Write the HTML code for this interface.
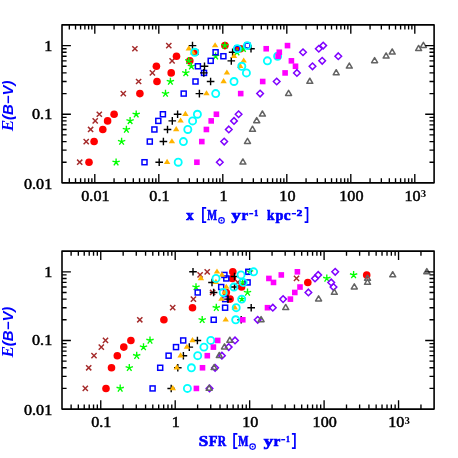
<!DOCTYPE html>
<html><head><meta charset="utf-8"><title>plot</title>
<style>
html,body{margin:0;padding:0;background:#fff;}
svg{display:block;will-change:transform;filter:opacity(1)}
.t{font-family:"Liberation Serif",serif;font-weight:normal;font-size:14.4px;fill:#000;stroke:#000;stroke-width:0.48px}
.yt{font-family:"Liberation Sans",sans-serif;font-weight:bold;font-style:italic;font-size:14px;fill:#0000ff}
.ys{font-family:"Liberation Serif",serif;font-size:16px}
.xl{font-family:"Liberation Serif",serif;font-weight:bold;font-size:13.9px;fill:#0000ff;stroke:#0000ff;stroke-width:0.65px}
.xs{font-family:"Liberation Mono",monospace;font-weight:bold;font-size:8.5px;fill:#0000ff}
</style></head><body>
<svg width="458" height="458" viewBox="0 0 458 458">
<rect width="458" height="458" fill="#fff"/>
<path d="M77.1 159.63L82.3 164.83M77.1 164.83L82.3 159.63" stroke="#a52a2a" stroke-width="1.45" fill="none"/>
<path d="M83.6 138.97L88.8 144.17M83.6 144.17L88.8 138.97" stroke="#a52a2a" stroke-width="1.45" fill="none"/>
<path d="M88 126.88L93.2 132.08M88 132.08L93.2 126.88" stroke="#a52a2a" stroke-width="1.45" fill="none"/>
<path d="M92.6 118.3L97.8 123.5M92.6 123.5L97.8 118.3" stroke="#a52a2a" stroke-width="1.45" fill="none"/>
<path d="M96.7 111.65L101.9 116.85M96.7 116.85L101.9 111.65" stroke="#a52a2a" stroke-width="1.45" fill="none"/>
<path d="M120.7 90.98L125.9 96.18M120.7 96.18L125.9 90.98" stroke="#a52a2a" stroke-width="1.45" fill="none"/>
<path d="M136 78.9L141.2 84.1M136 84.1L141.2 78.9" stroke="#a52a2a" stroke-width="1.45" fill="none"/>
<path d="M149.8 70.32L155 75.52M149.8 75.52L155 70.32" stroke="#a52a2a" stroke-width="1.45" fill="none"/>
<path d="M169.5 58.23L174.7 63.43M169.5 63.43L174.7 58.23" stroke="#a52a2a" stroke-width="1.45" fill="none"/>
<path d="M193.4 49.65L198.6 54.85M193.4 54.85L198.6 49.65" stroke="#a52a2a" stroke-width="1.45" fill="none"/>
<path d="M132.3 46.14L137.5 51.34M132.3 51.34L137.5 46.14" stroke="#a52a2a" stroke-width="1.45" fill="none"/>
<path d="M166.2 43L171.4 48.2M166.2 48.2L171.4 43" stroke="#a52a2a" stroke-width="1.45" fill="none"/>
<circle cx="89" cy="162.23" r="3.8" fill="#ff0000"/>
<circle cx="94.1" cy="141.57" r="3.8" fill="#ff0000"/>
<circle cx="102.8" cy="129.48" r="3.8" fill="#ff0000"/>
<circle cx="107.6" cy="120.9" r="3.8" fill="#ff0000"/>
<circle cx="114.1" cy="114.25" r="3.8" fill="#ff0000"/>
<circle cx="139.9" cy="93.58" r="3.8" fill="#ff0000"/>
<circle cx="157" cy="81.5" r="3.8" fill="#ff0000"/>
<circle cx="171.2" cy="72.92" r="3.8" fill="#ff0000"/>
<circle cx="156.4" cy="66.27" r="3.8" fill="#ff0000"/>
<circle cx="189.8" cy="60.83" r="3.8" fill="#ff0000"/>
<circle cx="176.5" cy="56.23" r="3.8" fill="#ff0000"/>
<circle cx="195.2" cy="52.25" r="3.8" fill="#ff0000"/>
<circle cx="237.6" cy="48.74" r="3.8" fill="#ff0000"/>
<circle cx="224.9" cy="45.6" r="3.8" fill="#ff0000"/>
<circle cx="240.4" cy="48.74" r="3.8" fill="#ff0000"/>
<path d="M116.1 162.23L116.1 158.38M116.1 162.23L112.44 161.04M116.1 162.23L113.84 165.35M116.1 162.23L118.36 165.35M116.1 162.23L119.76 161.04" stroke="#00ff00" stroke-width="1.35" fill="none"/>
<path d="M121.6 141.57L121.6 137.72M121.6 141.57L117.94 140.38M121.6 141.57L119.34 144.68M121.6 141.57L123.86 144.68M121.6 141.57L125.26 140.38" stroke="#00ff00" stroke-width="1.35" fill="none"/>
<path d="M126.4 129.48L126.4 125.63M126.4 129.48L122.74 128.29M126.4 129.48L124.14 132.59M126.4 129.48L128.66 132.59M126.4 129.48L130.06 128.29" stroke="#00ff00" stroke-width="1.35" fill="none"/>
<path d="M130.1 120.9L130.1 117.05M130.1 120.9L126.44 119.71M130.1 120.9L127.84 124.02M130.1 120.9L132.36 124.02M130.1 120.9L133.76 119.71" stroke="#00ff00" stroke-width="1.35" fill="none"/>
<path d="M136.2 114.25L136.2 110.4M136.2 114.25L132.54 113.06M136.2 114.25L133.94 117.36M136.2 114.25L138.46 117.36M136.2 114.25L139.86 113.06" stroke="#00ff00" stroke-width="1.35" fill="none"/>
<path d="M165.5 93.58L165.5 89.73M165.5 93.58L161.84 92.39M165.5 93.58L163.24 96.7M165.5 93.58L167.76 96.7M165.5 93.58L169.16 92.39" stroke="#00ff00" stroke-width="1.35" fill="none"/>
<path d="M170.4 81.5L170.4 77.65M170.4 81.5L166.74 80.31M170.4 81.5L168.14 84.61M170.4 81.5L172.66 84.61M170.4 81.5L174.06 80.31" stroke="#00ff00" stroke-width="1.35" fill="none"/>
<path d="M185.8 72.92L185.8 69.07M185.8 72.92L182.14 71.73M185.8 72.92L183.54 76.03M185.8 72.92L188.06 76.03M185.8 72.92L189.46 71.73" stroke="#00ff00" stroke-width="1.35" fill="none"/>
<path d="M191.4 66.27L191.4 62.42M191.4 66.27L187.74 65.08M191.4 66.27L189.14 69.38M191.4 66.27L193.66 69.38M191.4 66.27L195.06 65.08" stroke="#00ff00" stroke-width="1.35" fill="none"/>
<path d="M188.7 60.83L188.7 56.98M188.7 60.83L185.04 59.64M188.7 60.83L186.44 63.94M188.7 60.83L190.96 63.94M188.7 60.83L192.36 59.64" stroke="#00ff00" stroke-width="1.35" fill="none"/>
<path d="M215.6 56.23L215.6 52.38M215.6 56.23L211.94 55.04M215.6 56.23L213.34 59.35M215.6 56.23L217.86 59.35M215.6 56.23L219.26 55.04" stroke="#00ff00" stroke-width="1.35" fill="none"/>
<path d="M237 52.25L237 48.4M237 52.25L233.34 51.06M237 52.25L234.74 55.37M237 52.25L239.26 55.37M237 52.25L240.66 51.06" stroke="#00ff00" stroke-width="1.35" fill="none"/>
<path d="M243.4 48.74L243.4 44.89M243.4 48.74L239.74 47.55M243.4 48.74L241.14 51.86M243.4 48.74L245.66 51.86M243.4 48.74L247.06 47.55" stroke="#00ff00" stroke-width="1.35" fill="none"/>
<path d="M224.9 45.6L224.9 41.75M224.9 45.6L221.24 44.41M224.9 45.6L222.64 48.71M224.9 45.6L227.16 48.71M224.9 45.6L228.56 44.41" stroke="#00ff00" stroke-width="1.35" fill="none"/>
<rect x="142" y="159.73" width="5" height="5" stroke="#0000ff" stroke-width="1.5" fill="none"/>
<rect x="147.3" y="139.07" width="5" height="5" stroke="#0000ff" stroke-width="1.5" fill="none"/>
<rect x="151.9" y="126.98" width="5" height="5" stroke="#0000ff" stroke-width="1.5" fill="none"/>
<rect x="155.8" y="118.4" width="5" height="5" stroke="#0000ff" stroke-width="1.5" fill="none"/>
<rect x="160.4" y="111.75" width="5" height="5" stroke="#0000ff" stroke-width="1.5" fill="none"/>
<rect x="181.2" y="91.08" width="5" height="5" stroke="#0000ff" stroke-width="1.5" fill="none"/>
<rect x="193" y="79" width="5" height="5" stroke="#0000ff" stroke-width="1.5" fill="none"/>
<rect x="201.5" y="70.42" width="5" height="5" stroke="#0000ff" stroke-width="1.5" fill="none"/>
<rect x="195.4" y="63.77" width="5" height="5" stroke="#0000ff" stroke-width="1.5" fill="none"/>
<rect x="208.2" y="58.33" width="5" height="5" stroke="#0000ff" stroke-width="1.5" fill="none"/>
<rect x="220.9" y="53.73" width="5" height="5" stroke="#0000ff" stroke-width="1.5" fill="none"/>
<rect x="213.1" y="49.75" width="5" height="5" stroke="#0000ff" stroke-width="1.5" fill="none"/>
<rect x="234.8" y="46.24" width="5" height="5" stroke="#0000ff" stroke-width="1.5" fill="none"/>
<rect x="244.9" y="43.1" width="5" height="5" stroke="#0000ff" stroke-width="1.5" fill="none"/>
<path d="M155.4 162.23H163M159.2 158.43V166.03" stroke="#000000" stroke-width="1.4" fill="none"/>
<path d="M159.6 141.57H167.2M163.4 137.77V145.37" stroke="#000000" stroke-width="1.4" fill="none"/>
<path d="M163.7 129.48H171.3M167.5 125.68V133.28" stroke="#000000" stroke-width="1.4" fill="none"/>
<path d="M168.5 120.9H176.1M172.3 117.1V124.7" stroke="#000000" stroke-width="1.4" fill="none"/>
<path d="M173.8 114.25H181.4M177.6 110.45V118.05" stroke="#000000" stroke-width="1.4" fill="none"/>
<path d="M195.6 93.58H203.2M199.4 89.78V97.38" stroke="#000000" stroke-width="1.4" fill="none"/>
<path d="M206.8 81.5H214.4M210.6 77.7V85.3" stroke="#000000" stroke-width="1.4" fill="none"/>
<path d="M200 72.92H207.6M203.8 69.12V76.72" stroke="#000000" stroke-width="1.4" fill="none"/>
<path d="M200.7 66.27H208.3M204.5 62.47V70.07" stroke="#000000" stroke-width="1.4" fill="none"/>
<path d="M227.5 60.83H235.1M231.3 57.03V64.63" stroke="#000000" stroke-width="1.4" fill="none"/>
<path d="M228.8 52.25H236.4M232.6 48.45V56.05" stroke="#000000" stroke-width="1.4" fill="none"/>
<path d="M247.2 48.74H254.8M251 44.94V52.54" stroke="#000000" stroke-width="1.4" fill="none"/>
<path d="M188.7 45.6H196.3M192.5 41.8V49.4" stroke="#000000" stroke-width="1.4" fill="none"/>
<path d="M167.1 158.83L170.3 163.93H163.9Z" fill="#ffb400"/>
<path d="M171.9 138.17L175.1 143.27H168.7Z" fill="#ffb400"/>
<path d="M176.2 126.08L179.4 131.18H173Z" fill="#ffb400"/>
<path d="M180.6 117.5L183.8 122.6H177.4Z" fill="#ffb400"/>
<path d="M185.4 110.85L188.6 115.95H182.2Z" fill="#ffb400"/>
<path d="M206.5 90.18L209.7 95.28H203.3Z" fill="#ffb400"/>
<path d="M223.6 78.1L226.8 83.2H220.4Z" fill="#ffb400"/>
<path d="M226.9 69.52L230.1 74.62H223.7Z" fill="#ffb400"/>
<path d="M240.2 62.87L243.4 67.97H237Z" fill="#ffb400"/>
<path d="M243.7 57.43L246.9 62.53H240.5Z" fill="#ffb400"/>
<path d="M234 52.83L237.2 57.93H230.8Z" fill="#ffb400"/>
<path d="M192.9 49.42L196.1 54.52H189.7Z" fill="#ffb400"/>
<path d="M188.8 45.34L192 50.44H185.6Z" fill="#ffb400"/>
<path d="M215.1 42.2L218.3 47.3H211.9Z" fill="#ffb400"/>
<circle cx="178.2" cy="162.23" r="3.55" stroke="#00ffff" stroke-width="1.85" fill="none"/>
<circle cx="183.4" cy="141.57" r="3.55" stroke="#00ffff" stroke-width="1.85" fill="none"/>
<circle cx="187.8" cy="129.48" r="3.55" stroke="#00ffff" stroke-width="1.85" fill="none"/>
<circle cx="192.6" cy="120.9" r="3.55" stroke="#00ffff" stroke-width="1.85" fill="none"/>
<circle cx="197.4" cy="114.25" r="3.55" stroke="#00ffff" stroke-width="1.85" fill="none"/>
<circle cx="215.7" cy="93.58" r="3.55" stroke="#00ffff" stroke-width="1.85" fill="none"/>
<circle cx="234" cy="81.5" r="3.55" stroke="#00ffff" stroke-width="1.85" fill="none"/>
<circle cx="246.4" cy="72.92" r="3.55" stroke="#00ffff" stroke-width="1.85" fill="none"/>
<circle cx="241.8" cy="66.27" r="3.55" stroke="#00ffff" stroke-width="1.85" fill="none"/>
<circle cx="267.4" cy="60.83" r="3.55" stroke="#00ffff" stroke-width="1.85" fill="none"/>
<circle cx="277.6" cy="56.23" r="3.55" stroke="#00ffff" stroke-width="1.85" fill="none"/>
<circle cx="194.7" cy="52.25" r="3.55" stroke="#00ffff" stroke-width="1.85" fill="none"/>
<circle cx="237.3" cy="48.74" r="3.55" stroke="#00ffff" stroke-width="1.85" fill="none"/>
<circle cx="247.3" cy="45.6" r="3.55" stroke="#00ffff" stroke-width="1.85" fill="none"/>
<rect x="194.1" y="159.43" width="5.6" height="5.6" fill="#ff00ff"/>
<rect x="199" y="138.77" width="5.6" height="5.6" fill="#ff00ff"/>
<rect x="203.6" y="126.68" width="5.6" height="5.6" fill="#ff00ff"/>
<rect x="208.4" y="118.1" width="5.6" height="5.6" fill="#ff00ff"/>
<rect x="213.6" y="111.45" width="5.6" height="5.6" fill="#ff00ff"/>
<rect x="237.9" y="90.78" width="5.6" height="5.6" fill="#ff00ff"/>
<rect x="259.9" y="78.7" width="5.6" height="5.6" fill="#ff00ff"/>
<rect x="282.3" y="70.12" width="5.6" height="5.6" fill="#ff00ff"/>
<rect x="292.7" y="63.47" width="5.6" height="5.6" fill="#ff00ff"/>
<rect x="288.6" y="58.03" width="5.6" height="5.6" fill="#ff00ff"/>
<rect x="275.3" y="53.43" width="5.6" height="5.6" fill="#ff00ff"/>
<rect x="276.5" y="49.45" width="5.6" height="5.6" fill="#ff00ff"/>
<rect x="263.4" y="45.94" width="5.6" height="5.6" fill="#ff00ff"/>
<rect x="284.7" y="42.8" width="5.6" height="5.6" fill="#ff00ff"/>
<path d="M219.8 158.93L223.1 162.23L219.8 165.53L216.5 162.23Z" stroke="#7f00ff" stroke-width="1.5" fill="none"/>
<path d="M224.2 138.27L227.5 141.57L224.2 144.87L220.9 141.57Z" stroke="#7f00ff" stroke-width="1.5" fill="none"/>
<path d="M228.8 126.18L232.1 129.48L228.8 132.78L225.5 129.48Z" stroke="#7f00ff" stroke-width="1.5" fill="none"/>
<path d="M234 117.6L237.3 120.9L234 124.2L230.7 120.9Z" stroke="#7f00ff" stroke-width="1.5" fill="none"/>
<path d="M238.6 110.95L241.9 114.25L238.6 117.55L235.3 114.25Z" stroke="#7f00ff" stroke-width="1.5" fill="none"/>
<path d="M260.1 90.28L263.4 93.58L260.1 96.88L256.8 93.58Z" stroke="#7f00ff" stroke-width="1.5" fill="none"/>
<path d="M276.7 78.2L280 81.5L276.7 84.8L273.4 81.5Z" stroke="#7f00ff" stroke-width="1.5" fill="none"/>
<path d="M296.9 69.62L300.2 72.92L296.9 76.22L293.6 72.92Z" stroke="#7f00ff" stroke-width="1.5" fill="none"/>
<path d="M312.5 62.97L315.8 66.27L312.5 69.57L309.2 66.27Z" stroke="#7f00ff" stroke-width="1.5" fill="none"/>
<path d="M322.2 57.53L325.5 60.83L322.2 64.13L318.9 60.83Z" stroke="#7f00ff" stroke-width="1.5" fill="none"/>
<path d="M338.3 52.93L341.6 56.23L338.3 59.53L335 56.23Z" stroke="#7f00ff" stroke-width="1.5" fill="none"/>
<path d="M303 48.95L306.3 52.25L303 55.55L299.7 52.25Z" stroke="#7f00ff" stroke-width="1.5" fill="none"/>
<path d="M318.8 45.44L322.1 48.74L318.8 52.04L315.5 48.74Z" stroke="#7f00ff" stroke-width="1.5" fill="none"/>
<path d="M323.2 42.3L326.5 45.6L323.2 48.9L319.9 45.6Z" stroke="#7f00ff" stroke-width="1.5" fill="none"/>
<path d="M242.9 158.98L245.9 164.08H239.9Z" stroke="#636363" stroke-width="1.5" stroke-linejoin="round" fill="none"/>
<path d="M247.5 138.32L250.5 143.42H244.5Z" stroke="#636363" stroke-width="1.5" stroke-linejoin="round" fill="none"/>
<path d="M252.5 126.23L255.5 131.33H249.5Z" stroke="#636363" stroke-width="1.5" stroke-linejoin="round" fill="none"/>
<path d="M256.7 117.65L259.7 122.75H253.7Z" stroke="#636363" stroke-width="1.5" stroke-linejoin="round" fill="none"/>
<path d="M262.4 111L265.4 116.1H259.4Z" stroke="#636363" stroke-width="1.5" stroke-linejoin="round" fill="none"/>
<path d="M288.6 90.33L291.6 95.43H285.6Z" stroke="#636363" stroke-width="1.5" stroke-linejoin="round" fill="none"/>
<path d="M309.8 78.25L312.8 83.35H306.8Z" stroke="#636363" stroke-width="1.5" stroke-linejoin="round" fill="none"/>
<path d="M336.2 69.67L339.2 74.77H333.2Z" stroke="#636363" stroke-width="1.5" stroke-linejoin="round" fill="none"/>
<path d="M349.3 63.02L352.3 68.12H346.3Z" stroke="#636363" stroke-width="1.5" stroke-linejoin="round" fill="none"/>
<path d="M374.6 57.58L377.6 62.68H371.6Z" stroke="#636363" stroke-width="1.5" stroke-linejoin="round" fill="none"/>
<path d="M386.1 52.98L389.1 58.08H383.1Z" stroke="#636363" stroke-width="1.5" stroke-linejoin="round" fill="none"/>
<path d="M392.2 49L395.2 54.1H389.2Z" stroke="#636363" stroke-width="1.5" stroke-linejoin="round" fill="none"/>
<path d="M418.6 45.49L421.6 50.59H415.6Z" stroke="#636363" stroke-width="1.5" stroke-linejoin="round" fill="none"/>
<path d="M423.4 42.35L426.4 47.45H420.4Z" stroke="#636363" stroke-width="1.5" stroke-linejoin="round" fill="none"/>
<path d="M69.33 182.85v-4.6M69.33 24.9v4.6M75.53 182.85v-4.6M75.53 24.9v4.6M80.6 182.85v-4.6M80.6 24.9v4.6M84.89 182.85v-4.6M84.89 24.9v4.6M88.6 182.85v-4.6M88.6 24.9v4.6M91.87 182.85v-4.6M91.87 24.9v4.6M94.8 182.85v-8.9M94.8 24.9v8.9M114.07 182.85v-4.6M114.07 24.9v4.6M125.34 182.85v-4.6M125.34 24.9v4.6M133.33 182.85v-4.6M133.33 24.9v4.6M139.53 182.85v-4.6M139.53 24.9v4.6M144.6 182.85v-4.6M144.6 24.9v4.6M148.89 182.85v-4.6M148.89 24.9v4.6M152.6 182.85v-4.6M152.6 24.9v4.6M155.87 182.85v-4.6M155.87 24.9v4.6M158.8 182.85v-8.9M158.8 24.9v8.9M178.07 182.85v-4.6M178.07 24.9v4.6M189.34 182.85v-4.6M189.34 24.9v4.6M197.33 182.85v-4.6M197.33 24.9v4.6M203.53 182.85v-4.6M203.53 24.9v4.6M208.6 182.85v-4.6M208.6 24.9v4.6M212.89 182.85v-4.6M212.89 24.9v4.6M216.6 182.85v-4.6M216.6 24.9v4.6M219.87 182.85v-4.6M219.87 24.9v4.6M222.8 182.85v-8.9M222.8 24.9v8.9M242.07 182.85v-4.6M242.07 24.9v4.6M253.34 182.85v-4.6M253.34 24.9v4.6M261.33 182.85v-4.6M261.33 24.9v4.6M267.53 182.85v-4.6M267.53 24.9v4.6M272.6 182.85v-4.6M272.6 24.9v4.6M276.89 182.85v-4.6M276.89 24.9v4.6M280.6 182.85v-4.6M280.6 24.9v4.6M283.87 182.85v-4.6M283.87 24.9v4.6M286.8 182.85v-8.9M286.8 24.9v8.9M306.07 182.85v-4.6M306.07 24.9v4.6M317.34 182.85v-4.6M317.34 24.9v4.6M325.33 182.85v-4.6M325.33 24.9v4.6M331.53 182.85v-4.6M331.53 24.9v4.6M336.6 182.85v-4.6M336.6 24.9v4.6M340.89 182.85v-4.6M340.89 24.9v4.6M344.6 182.85v-4.6M344.6 24.9v4.6M347.87 182.85v-4.6M347.87 24.9v4.6M350.8 182.85v-8.9M350.8 24.9v8.9M370.07 182.85v-4.6M370.07 24.9v4.6M381.34 182.85v-4.6M381.34 24.9v4.6M389.33 182.85v-4.6M389.33 24.9v4.6M395.53 182.85v-4.6M395.53 24.9v4.6M400.6 182.85v-4.6M400.6 24.9v4.6M404.89 182.85v-4.6M404.89 24.9v4.6M408.6 182.85v-4.6M408.6 24.9v4.6M411.87 182.85v-4.6M411.87 24.9v4.6M414.8 182.85v-8.9M414.8 24.9v8.9M62 162.23h4.6M434.1 162.23h-4.6M62 150.15h4.6M434.1 150.15h-4.6M62 141.57h4.6M434.1 141.57h-4.6M62 134.92h4.6M434.1 134.92h-4.6M62 129.48h4.6M434.1 129.48h-4.6M62 124.88h4.6M434.1 124.88h-4.6M62 120.9h4.6M434.1 120.9h-4.6M62 117.39h4.6M434.1 117.39h-4.6M62 114.25h8.9M434.1 114.25h-8.9M62 93.58h4.6M434.1 93.58h-4.6M62 81.5h4.6M434.1 81.5h-4.6M62 72.92h4.6M434.1 72.92h-4.6M62 66.27h4.6M434.1 66.27h-4.6M62 60.83h4.6M434.1 60.83h-4.6M62 56.23h4.6M434.1 56.23h-4.6M62 52.25h4.6M434.1 52.25h-4.6M62 48.74h4.6M434.1 48.74h-4.6M62 45.6h8.9M434.1 45.6h-8.9" stroke="#000" stroke-width="1.35" fill="none"/>
<rect x="62" y="24.9" width="372.1" height="157.95" stroke="#000" stroke-width="1.6" stroke-linejoin="round" fill="none"/>
<text class="t" transform="translate(52.2 50.6) scale(1.12 1)" text-anchor="end">1</text>
<text class="t" transform="translate(52.2 119.25) scale(1.12 1)" text-anchor="end">0.1</text>
<text class="t" transform="translate(52.2 188.5) scale(1.12 1)" text-anchor="end">0.01</text>
<text class="t" transform="translate(95.4 200.75) scale(1.12 1)" text-anchor="middle">0.01</text>
<text class="t" transform="translate(159.4 200.75) scale(1.12 1)" text-anchor="middle">0.1</text>
<text class="t" transform="translate(223.4 200.75) scale(1.12 1)" text-anchor="middle">1</text>
<text class="t" transform="translate(287.4 200.75) scale(1.12 1)" text-anchor="middle">10</text>
<text class="t" transform="translate(351.4 200.75) scale(1.12 1)" text-anchor="middle">100</text>
<text class="t" transform="translate(412.6 200.75) scale(1.12 1)" text-anchor="middle">10</text>
<text class="t" transform="translate(423.4 197.45) scale(1.05 1)" text-anchor="middle" style="font-size:10.3px;font-weight:bold;stroke:none">3</text>
<text transform="translate(13.3 105.88) rotate(-90) scale(1.07 1)" text-anchor="middle" class="yt"><tspan class="ys">E</tspan>(B&#8722;V)</text>
<text class="xl" style="font-size:13.9px" transform="translate(186.33 219.5) scale(1.057 1.08)">x</text>
<path d="M206.2 207.9H202.9V222.1H206.2" stroke="#0000ff" stroke-width="1.7" fill="none" stroke-linejoin="miter"/>
<text class="xl" style="font-size:13.9px" transform="translate(207.14 219.5) scale(0.751 1)">M</text>
<circle cx="221.5" cy="220.4" r="2.75" stroke="#0000ff" stroke-width="1.15" fill="none"/><circle cx="221.5" cy="220.4" r="0.9" fill="#0000ff"/>
<text class="xl" style="font-size:13.9px" transform="translate(231.61 219.5) scale(1.334 1.08)">y</text>
<text class="xl" style="font-size:13.9px" transform="translate(241.43 219.5) scale(1.075 1.08)">r</text>
<path d="M249.2 213.7H253.2" stroke="#0000ff" stroke-width="1.35" fill="none"/>
<text class="xl" style="font-size:8.2px" transform="translate(254.37 215.7) scale(0.956 1)">1</text>
<text class="xl" style="font-size:13.9px" transform="translate(266.97 219.5) scale(0.964 1)">k</text>
<text class="xl" style="font-size:13.9px" transform="translate(275.39 219.5) scale(1.022 1.08)">p</text>
<text class="xl" style="font-size:13.9px" transform="translate(283.76 219.5) scale(1.102 1.08)">c</text>
<path d="M291.8 213.7H296" stroke="#0000ff" stroke-width="1.35" fill="none"/>
<text class="xl" style="font-size:8.2px" transform="translate(296.77 215.7) scale(1.322 1)">2</text>
<path d="M304.6 207.9H307.5V222.1H304.6" stroke="#0000ff" stroke-width="1.7" fill="none" stroke-linejoin="miter"/>
<path d="M82.7 385.83L87.9 391.03M82.7 391.03L87.9 385.83" stroke="#a52a2a" stroke-width="1.45" fill="none"/>
<path d="M86.1 365.17L91.3 370.37M86.1 370.37L91.3 365.17" stroke="#a52a2a" stroke-width="1.45" fill="none"/>
<path d="M91.4 353.08L96.6 358.28M91.4 358.28L96.6 353.08" stroke="#a52a2a" stroke-width="1.45" fill="none"/>
<path d="M98.7 344.5L103.9 349.7M98.7 349.7L103.9 344.5" stroke="#a52a2a" stroke-width="1.45" fill="none"/>
<path d="M102.9 337.85L108.1 343.05M102.9 343.05L108.1 337.85" stroke="#a52a2a" stroke-width="1.45" fill="none"/>
<path d="M137.2 317.18L142.4 322.38M137.2 322.38L142.4 317.18" stroke="#a52a2a" stroke-width="1.45" fill="none"/>
<path d="M170.1 305.1L175.3 310.3M170.1 310.3L175.3 305.1" stroke="#a52a2a" stroke-width="1.45" fill="none"/>
<path d="M190.8 296.52L196 301.72M190.8 301.72L196 296.52" stroke="#a52a2a" stroke-width="1.45" fill="none"/>
<path d="M210 289.87L215.2 295.07M210 295.07L215.2 289.87" stroke="#a52a2a" stroke-width="1.45" fill="none"/>
<path d="M235.2 279.83L240.4 285.03M235.2 285.03L240.4 279.83" stroke="#a52a2a" stroke-width="1.45" fill="none"/>
<path d="M293.9 275.85L299.1 281.05M293.9 281.05L299.1 275.85" stroke="#a52a2a" stroke-width="1.45" fill="none"/>
<path d="M197.5 272.34L202.7 277.54M197.5 277.54L202.7 272.34" stroke="#a52a2a" stroke-width="1.45" fill="none"/>
<path d="M204.6 269.2L209.8 274.4M204.6 274.4L209.8 269.2" stroke="#a52a2a" stroke-width="1.45" fill="none"/>
<circle cx="106" cy="388.43" r="3.8" fill="#ff0000"/>
<circle cx="111.5" cy="367.77" r="3.8" fill="#ff0000"/>
<circle cx="117.3" cy="355.68" r="3.8" fill="#ff0000"/>
<circle cx="123.8" cy="347.1" r="3.8" fill="#ff0000"/>
<circle cx="130.9" cy="340.45" r="3.8" fill="#ff0000"/>
<circle cx="163.9" cy="319.78" r="3.8" fill="#ff0000"/>
<circle cx="192.5" cy="307.7" r="3.8" fill="#ff0000"/>
<circle cx="230.1" cy="299.12" r="3.8" fill="#ff0000"/>
<circle cx="226.3" cy="292.47" r="3.8" fill="#ff0000"/>
<circle cx="241.6" cy="287.03" r="3.8" fill="#ff0000"/>
<circle cx="307.8" cy="282.43" r="3.8" fill="#ff0000"/>
<circle cx="232.3" cy="278.45" r="3.8" fill="#ff0000"/>
<circle cx="366.7" cy="274.94" r="3.8" fill="#ff0000"/>
<circle cx="232.8" cy="271.8" r="3.8" fill="#ff0000"/>
<path d="M120.2 388.43L120.2 384.58M120.2 388.43L116.54 387.24M120.2 388.43L117.94 391.55M120.2 388.43L122.46 391.55M120.2 388.43L123.86 387.24" stroke="#00ff00" stroke-width="1.35" fill="none"/>
<path d="M129.3 367.77L129.3 363.92M129.3 367.77L125.64 366.58M129.3 367.77L127.04 370.88M129.3 367.77L131.56 370.88M129.3 367.77L132.96 366.58" stroke="#00ff00" stroke-width="1.35" fill="none"/>
<path d="M136.7 355.68L136.7 351.83M136.7 355.68L133.04 354.49M136.7 355.68L134.44 358.79M136.7 355.68L138.96 358.79M136.7 355.68L140.36 354.49" stroke="#00ff00" stroke-width="1.35" fill="none"/>
<path d="M143.5 347.1L143.5 343.25M143.5 347.1L139.84 345.91M143.5 347.1L141.24 350.22M143.5 347.1L145.76 350.22M143.5 347.1L147.16 345.91" stroke="#00ff00" stroke-width="1.35" fill="none"/>
<path d="M150 340.45L150 336.6M150 340.45L146.34 339.26M150 340.45L147.74 343.56M150 340.45L152.26 343.56M150 340.45L153.66 339.26" stroke="#00ff00" stroke-width="1.35" fill="none"/>
<path d="M202.2 319.78L202.2 315.93M202.2 319.78L198.54 318.59M202.2 319.78L199.94 322.9M202.2 319.78L204.46 322.9M202.2 319.78L205.86 318.59" stroke="#00ff00" stroke-width="1.35" fill="none"/>
<path d="M216.3 307.7L216.3 303.85M216.3 307.7L212.64 306.51M216.3 307.7L214.04 310.81M216.3 307.7L218.56 310.81M216.3 307.7L219.96 306.51" stroke="#00ff00" stroke-width="1.35" fill="none"/>
<path d="M241.9 299.12L241.9 295.27M241.9 299.12L238.24 297.93M241.9 299.12L239.64 302.23M241.9 299.12L244.16 302.23M241.9 299.12L245.56 297.93" stroke="#00ff00" stroke-width="1.35" fill="none"/>
<path d="M247.5 292.47L247.5 288.62M247.5 292.47L243.84 291.28M247.5 292.47L245.24 295.58M247.5 292.47L249.76 295.58M247.5 292.47L251.16 291.28" stroke="#00ff00" stroke-width="1.35" fill="none"/>
<path d="M196 287.03L196 283.18M196 287.03L192.34 285.84M196 287.03L193.74 290.14M196 287.03L198.26 290.14M196 287.03L199.66 285.84" stroke="#00ff00" stroke-width="1.35" fill="none"/>
<path d="M242.7 282.43L242.7 278.58M242.7 282.43L239.04 281.24M242.7 282.43L240.44 285.55M242.7 282.43L244.96 285.55M242.7 282.43L246.36 281.24" stroke="#00ff00" stroke-width="1.35" fill="none"/>
<path d="M326.8 278.45L326.8 274.6M326.8 278.45L323.14 277.26M326.8 278.45L324.54 281.57M326.8 278.45L329.06 281.57M326.8 278.45L330.46 277.26" stroke="#00ff00" stroke-width="1.35" fill="none"/>
<path d="M353.6 274.94L353.6 271.09M353.6 274.94L349.94 273.75M353.6 274.94L351.34 278.06M353.6 274.94L355.86 278.06M353.6 274.94L357.26 273.75" stroke="#00ff00" stroke-width="1.35" fill="none"/>
<path d="M249.6 271.8L249.6 267.95M249.6 271.8L245.94 270.61M249.6 271.8L247.34 274.91M249.6 271.8L251.86 274.91M249.6 271.8L253.26 270.61" stroke="#00ff00" stroke-width="1.35" fill="none"/>
<rect x="150.1" y="385.93" width="5" height="5" stroke="#0000ff" stroke-width="1.5" fill="none"/>
<rect x="157.7" y="365.27" width="5" height="5" stroke="#0000ff" stroke-width="1.5" fill="none"/>
<rect x="166.1" y="353.18" width="5" height="5" stroke="#0000ff" stroke-width="1.5" fill="none"/>
<rect x="173.5" y="344.6" width="5" height="5" stroke="#0000ff" stroke-width="1.5" fill="none"/>
<rect x="180.7" y="337.95" width="5" height="5" stroke="#0000ff" stroke-width="1.5" fill="none"/>
<rect x="211.2" y="317.28" width="5" height="5" stroke="#0000ff" stroke-width="1.5" fill="none"/>
<rect x="222.6" y="305.2" width="5" height="5" stroke="#0000ff" stroke-width="1.5" fill="none"/>
<rect x="222.7" y="296.62" width="5" height="5" stroke="#0000ff" stroke-width="1.5" fill="none"/>
<rect x="195.2" y="289.97" width="5" height="5" stroke="#0000ff" stroke-width="1.5" fill="none"/>
<rect x="218.7" y="284.53" width="5" height="5" stroke="#0000ff" stroke-width="1.5" fill="none"/>
<rect x="245.1" y="279.93" width="5" height="5" stroke="#0000ff" stroke-width="1.5" fill="none"/>
<rect x="223.8" y="275.95" width="5" height="5" stroke="#0000ff" stroke-width="1.5" fill="none"/>
<rect x="221.9" y="272.44" width="5" height="5" stroke="#0000ff" stroke-width="1.5" fill="none"/>
<rect x="245.8" y="269.3" width="5" height="5" stroke="#0000ff" stroke-width="1.5" fill="none"/>
<path d="M167.4 388.43H175M171.2 384.63V392.23" stroke="#000000" stroke-width="1.4" fill="none"/>
<path d="M174 367.77H181.6M177.8 363.97V371.57" stroke="#000000" stroke-width="1.4" fill="none"/>
<path d="M179.6 355.68H187.2M183.4 351.88V359.48" stroke="#000000" stroke-width="1.4" fill="none"/>
<path d="M185.5 347.1H193.1M189.3 343.3V350.9" stroke="#000000" stroke-width="1.4" fill="none"/>
<path d="M193.6 340.45H201.2M197.4 336.65V344.25" stroke="#000000" stroke-width="1.4" fill="none"/>
<path d="M237.4 319.78H245M241.2 315.98V323.58" stroke="#000000" stroke-width="1.4" fill="none"/>
<path d="M247.4 307.7H255M251.2 303.9V311.5" stroke="#000000" stroke-width="1.4" fill="none"/>
<path d="M224.2 299.12H231.8M228 295.32V302.92" stroke="#000000" stroke-width="1.4" fill="none"/>
<path d="M209.8 292.47H217.4M213.6 288.67V296.27" stroke="#000000" stroke-width="1.4" fill="none"/>
<path d="M230.7 287.03H238.3M234.5 283.23V290.83" stroke="#000000" stroke-width="1.4" fill="none"/>
<path d="M208.2 282.43H215.8M212 278.63V286.23" stroke="#000000" stroke-width="1.4" fill="none"/>
<path d="M230.7 276.47H238.3M234.5 272.67V280.27" stroke="#000000" stroke-width="1.4" fill="none"/>
<path d="M189.2 271.8H196.8M193 268V275.6" stroke="#000000" stroke-width="1.4" fill="none"/>
<path d="M172.8 385.03L176 390.13H169.6Z" fill="#ffb400"/>
<path d="M176.8 364.37L180 369.47H173.6Z" fill="#ffb400"/>
<path d="M180.6 352.28L183.8 357.38H177.4Z" fill="#ffb400"/>
<path d="M186.9 343.7L190.1 348.8H183.7Z" fill="#ffb400"/>
<path d="M192.5 337.05L195.7 342.15H189.3Z" fill="#ffb400"/>
<path d="M225.7 316.38L228.9 321.48H222.5Z" fill="#ffb400"/>
<path d="M234.8 304.3L238 309.4H231.6Z" fill="#ffb400"/>
<path d="M221.4 295.72L224.6 300.82H218.2Z" fill="#ffb400"/>
<path d="M224.7 289.07L227.9 294.17H221.5Z" fill="#ffb400"/>
<path d="M226.3 283.63L229.5 288.73H223.1Z" fill="#ffb400"/>
<path d="M215.9 278.82L219.1 283.92H212.7Z" fill="#ffb400"/>
<path d="M200.9 275.05L204.1 280.15H197.7Z" fill="#ffb400"/>
<path d="M221.9 271.54L225.1 276.64H218.7Z" fill="#ffb400"/>
<path d="M217 268.4L220.2 273.5H213.8Z" fill="#ffb400"/>
<circle cx="187.4" cy="388.43" r="3.55" stroke="#00ffff" stroke-width="1.85" fill="none"/>
<circle cx="191.4" cy="367.77" r="3.55" stroke="#00ffff" stroke-width="1.85" fill="none"/>
<circle cx="197.7" cy="355.68" r="3.55" stroke="#00ffff" stroke-width="1.85" fill="none"/>
<circle cx="203.9" cy="347.1" r="3.55" stroke="#00ffff" stroke-width="1.85" fill="none"/>
<circle cx="210.8" cy="340.45" r="3.55" stroke="#00ffff" stroke-width="1.85" fill="none"/>
<circle cx="235.7" cy="319.78" r="3.55" stroke="#00ffff" stroke-width="1.85" fill="none"/>
<circle cx="236.2" cy="307.7" r="3.55" stroke="#00ffff" stroke-width="1.85" fill="none"/>
<circle cx="241.7" cy="299.12" r="3.55" stroke="#00ffff" stroke-width="1.85" fill="none"/>
<circle cx="223.2" cy="292.47" r="3.55" stroke="#00ffff" stroke-width="1.85" fill="none"/>
<circle cx="233.9" cy="287.03" r="3.55" stroke="#00ffff" stroke-width="1.85" fill="none"/>
<circle cx="243.2" cy="282.43" r="3.55" stroke="#00ffff" stroke-width="1.85" fill="none"/>
<circle cx="216" cy="278.45" r="3.55" stroke="#00ffff" stroke-width="1.85" fill="none"/>
<circle cx="241" cy="274.94" r="3.55" stroke="#00ffff" stroke-width="1.85" fill="none"/>
<circle cx="253.6" cy="271.8" r="3.55" stroke="#00ffff" stroke-width="1.85" fill="none"/>
<rect x="193.6" y="385.63" width="5.6" height="5.6" fill="#ff00ff"/>
<rect x="199.7" y="364.97" width="5.6" height="5.6" fill="#ff00ff"/>
<rect x="204.5" y="352.88" width="5.6" height="5.6" fill="#ff00ff"/>
<rect x="210.6" y="344.3" width="5.6" height="5.6" fill="#ff00ff"/>
<rect x="214.9" y="337.65" width="5.6" height="5.6" fill="#ff00ff"/>
<rect x="240" y="316.98" width="5.6" height="5.6" fill="#ff00ff"/>
<rect x="264.7" y="304.9" width="5.6" height="5.6" fill="#ff00ff"/>
<rect x="287.6" y="296.32" width="5.6" height="5.6" fill="#ff00ff"/>
<rect x="292" y="289.67" width="5.6" height="5.6" fill="#ff00ff"/>
<rect x="297.2" y="284.23" width="5.6" height="5.6" fill="#ff00ff"/>
<rect x="270.7" y="279.63" width="5.6" height="5.6" fill="#ff00ff"/>
<rect x="266.1" y="275.65" width="5.6" height="5.6" fill="#ff00ff"/>
<rect x="278.5" y="272.14" width="5.6" height="5.6" fill="#ff00ff"/>
<rect x="294.6" y="269" width="5.6" height="5.6" fill="#ff00ff"/>
<path d="M209.5 385.13L212.8 388.43L209.5 391.73L206.2 388.43Z" stroke="#7f00ff" stroke-width="1.5" fill="none"/>
<path d="M215.1 364.47L218.4 367.77L215.1 371.07L211.8 367.77Z" stroke="#7f00ff" stroke-width="1.5" fill="none"/>
<path d="M221.9 352.38L225.2 355.68L221.9 358.98L218.6 355.68Z" stroke="#7f00ff" stroke-width="1.5" fill="none"/>
<path d="M228.7 343.8L232 347.1L228.7 350.4L225.4 347.1Z" stroke="#7f00ff" stroke-width="1.5" fill="none"/>
<path d="M235 337.15L238.3 340.45L235 343.75L231.7 340.45Z" stroke="#7f00ff" stroke-width="1.5" fill="none"/>
<path d="M257.7 316.48L261 319.78L257.7 323.08L254.4 319.78Z" stroke="#7f00ff" stroke-width="1.5" fill="none"/>
<path d="M272.8 304.4L276.1 307.7L272.8 311L269.5 307.7Z" stroke="#7f00ff" stroke-width="1.5" fill="none"/>
<path d="M283.1 295.82L286.4 299.12L283.1 302.42L279.8 299.12Z" stroke="#7f00ff" stroke-width="1.5" fill="none"/>
<path d="M308.4 289.17L311.7 292.47L308.4 295.77L305.1 292.47Z" stroke="#7f00ff" stroke-width="1.5" fill="none"/>
<path d="M333.5 283.73L336.8 287.03L333.5 290.33L330.2 287.03Z" stroke="#7f00ff" stroke-width="1.5" fill="none"/>
<path d="M331.2 279.13L334.5 282.43L331.2 285.73L327.9 282.43Z" stroke="#7f00ff" stroke-width="1.5" fill="none"/>
<path d="M315 275.15L318.3 278.45L315 281.75L311.7 278.45Z" stroke="#7f00ff" stroke-width="1.5" fill="none"/>
<path d="M318.2 271.64L321.5 274.94L318.2 278.24L314.9 274.94Z" stroke="#7f00ff" stroke-width="1.5" fill="none"/>
<path d="M335.2 268.5L338.5 271.8L335.2 275.1L331.9 271.8Z" stroke="#7f00ff" stroke-width="1.5" fill="none"/>
<path d="M209.1 385.18L212.1 390.28H206.1Z" stroke="#636363" stroke-width="1.5" stroke-linejoin="round" fill="none"/>
<path d="M214.1 364.52L217.1 369.62H211.1Z" stroke="#636363" stroke-width="1.5" stroke-linejoin="round" fill="none"/>
<path d="M219.3 352.43L222.3 357.53H216.3Z" stroke="#636363" stroke-width="1.5" stroke-linejoin="round" fill="none"/>
<path d="M224.5 343.85L227.5 348.95H221.5Z" stroke="#636363" stroke-width="1.5" stroke-linejoin="round" fill="none"/>
<path d="M229.8 337.2L232.8 342.3H226.8Z" stroke="#636363" stroke-width="1.5" stroke-linejoin="round" fill="none"/>
<path d="M261.1 316.53L264.1 321.63H258.1Z" stroke="#636363" stroke-width="1.5" stroke-linejoin="round" fill="none"/>
<path d="M285.7 304.45L288.7 309.55H282.7Z" stroke="#636363" stroke-width="1.5" stroke-linejoin="round" fill="none"/>
<path d="M318.6 295.87L321.6 300.97H315.6Z" stroke="#636363" stroke-width="1.5" stroke-linejoin="round" fill="none"/>
<path d="M334.3 289.22L337.3 294.32H331.3Z" stroke="#636363" stroke-width="1.5" stroke-linejoin="round" fill="none"/>
<path d="M354.3 283.78L357.3 288.88H351.3Z" stroke="#636363" stroke-width="1.5" stroke-linejoin="round" fill="none"/>
<path d="M367.5 279.18L370.5 284.28H364.5Z" stroke="#636363" stroke-width="1.5" stroke-linejoin="round" fill="none"/>
<path d="M367.5 275.2L370.5 280.3H364.5Z" stroke="#636363" stroke-width="1.5" stroke-linejoin="round" fill="none"/>
<path d="M392.7 271.69L395.7 276.79H389.7Z" stroke="#636363" stroke-width="1.5" stroke-linejoin="round" fill="none"/>
<path d="M426.8 268.55L429.8 273.65H423.8Z" stroke="#636363" stroke-width="1.5" stroke-linejoin="round" fill="none"/>
<path d="M71.12 409.1v-4.6M71.12 251.1v4.6M78.34 409.1v-4.6M78.34 251.1v4.6M84.23 409.1v-4.6M84.23 251.1v4.6M89.22 409.1v-4.6M89.22 251.1v4.6M93.54 409.1v-4.6M93.54 251.1v4.6M97.34 409.1v-4.6M97.34 251.1v4.6M100.75 409.1v-8.9M100.75 251.1v8.9M123.16 409.1v-4.6M123.16 251.1v4.6M136.27 409.1v-4.6M136.27 251.1v4.6M145.57 409.1v-4.6M145.57 251.1v4.6M152.79 409.1v-4.6M152.79 251.1v4.6M158.68 409.1v-4.6M158.68 251.1v4.6M163.67 409.1v-4.6M163.67 251.1v4.6M167.99 409.1v-4.6M167.99 251.1v4.6M171.79 409.1v-4.6M171.79 251.1v4.6M175.2 409.1v-8.9M175.2 251.1v8.9M197.61 409.1v-4.6M197.61 251.1v4.6M210.72 409.1v-4.6M210.72 251.1v4.6M220.02 409.1v-4.6M220.02 251.1v4.6M227.24 409.1v-4.6M227.24 251.1v4.6M233.13 409.1v-4.6M233.13 251.1v4.6M238.12 409.1v-4.6M238.12 251.1v4.6M242.44 409.1v-4.6M242.44 251.1v4.6M246.24 409.1v-4.6M246.24 251.1v4.6M249.65 409.1v-8.9M249.65 251.1v8.9M272.06 409.1v-4.6M272.06 251.1v4.6M285.17 409.1v-4.6M285.17 251.1v4.6M294.47 409.1v-4.6M294.47 251.1v4.6M301.69 409.1v-4.6M301.69 251.1v4.6M307.58 409.1v-4.6M307.58 251.1v4.6M312.57 409.1v-4.6M312.57 251.1v4.6M316.89 409.1v-4.6M316.89 251.1v4.6M320.69 409.1v-4.6M320.69 251.1v4.6M324.1 409.1v-8.9M324.1 251.1v8.9M346.51 409.1v-4.6M346.51 251.1v4.6M359.62 409.1v-4.6M359.62 251.1v4.6M368.92 409.1v-4.6M368.92 251.1v4.6M376.14 409.1v-4.6M376.14 251.1v4.6M382.03 409.1v-4.6M382.03 251.1v4.6M387.02 409.1v-4.6M387.02 251.1v4.6M391.34 409.1v-4.6M391.34 251.1v4.6M395.14 409.1v-4.6M395.14 251.1v4.6M398.55 409.1v-8.9M398.55 251.1v8.9M420.96 409.1v-4.6M420.96 251.1v4.6M62 388.43h4.6M434.1 388.43h-4.6M62 376.35h4.6M434.1 376.35h-4.6M62 367.77h4.6M434.1 367.77h-4.6M62 361.12h4.6M434.1 361.12h-4.6M62 355.68h4.6M434.1 355.68h-4.6M62 351.08h4.6M434.1 351.08h-4.6M62 347.1h4.6M434.1 347.1h-4.6M62 343.59h4.6M434.1 343.59h-4.6M62 340.45h8.9M434.1 340.45h-8.9M62 319.78h4.6M434.1 319.78h-4.6M62 307.7h4.6M434.1 307.7h-4.6M62 299.12h4.6M434.1 299.12h-4.6M62 292.47h4.6M434.1 292.47h-4.6M62 287.03h4.6M434.1 287.03h-4.6M62 282.43h4.6M434.1 282.43h-4.6M62 278.45h4.6M434.1 278.45h-4.6M62 274.94h4.6M434.1 274.94h-4.6M62 271.8h8.9M434.1 271.8h-8.9" stroke="#000" stroke-width="1.35" fill="none"/>
<rect x="62" y="251.1" width="372.1" height="158" stroke="#000" stroke-width="1.6" stroke-linejoin="round" fill="none"/>
<text class="t" transform="translate(52.2 276.8) scale(1.12 1)" text-anchor="end">1</text>
<text class="t" transform="translate(52.2 345.45) scale(1.12 1)" text-anchor="end">0.1</text>
<text class="t" transform="translate(52.2 414.7) scale(1.12 1)" text-anchor="end">0.01</text>
<text class="t" transform="translate(101.35 427) scale(1.12 1)" text-anchor="middle">0.1</text>
<text class="t" transform="translate(175.8 427) scale(1.12 1)" text-anchor="middle">1</text>
<text class="t" transform="translate(250.25 427) scale(1.12 1)" text-anchor="middle">10</text>
<text class="t" transform="translate(324.7 427) scale(1.12 1)" text-anchor="middle">100</text>
<text class="t" transform="translate(396.35 427) scale(1.12 1)" text-anchor="middle">10</text>
<text class="t" transform="translate(407.15 423.7) scale(1.05 1)" text-anchor="middle" style="font-size:10.3px;font-weight:bold;stroke:none">3</text>
<text transform="translate(13.3 332.1) rotate(-90) scale(1.07 1)" text-anchor="middle" class="yt"><tspan class="ys">E</tspan>(B&#8722;V)</text>
<text class="xl" style="font-size:13.9px" transform="translate(198.87 445.5) scale(1.220 1)">S</text>
<text class="xl" style="font-size:13.9px" transform="translate(208.69 445.5) scale(1.020 1)">F</text>
<text class="xl" style="font-size:13.9px" transform="translate(217.63 445.5) scale(0.835 1)">R</text>
<path d="M237.4 433.9H234.1V448.1H237.4" stroke="#0000ff" stroke-width="1.7" fill="none" stroke-linejoin="miter"/>
<text class="xl" style="font-size:13.9px" transform="translate(238.14 445.5) scale(0.775 1)">M</text>
<circle cx="252.6" cy="446.6" r="2.75" stroke="#0000ff" stroke-width="1.15" fill="none"/><circle cx="252.6" cy="446.6" r="0.9" fill="#0000ff"/>
<text class="xl" style="font-size:13.9px" transform="translate(263.71 445.5) scale(1.349 1.08)">y</text>
<text class="xl" style="font-size:13.9px" transform="translate(273.61 445.5) scale(1.111 1.08)">r</text>
<path d="M281.2 439.7H285.1" stroke="#0000ff" stroke-width="1.35" fill="none"/>
<text class="xl" style="font-size:8.2px" transform="translate(286.36 441.7) scale(0.824 1)">1</text>
<path d="M291.9 433.9H294.9V448.1H291.9" stroke="#0000ff" stroke-width="1.7" fill="none" stroke-linejoin="miter"/>
</svg>
</body></html>
